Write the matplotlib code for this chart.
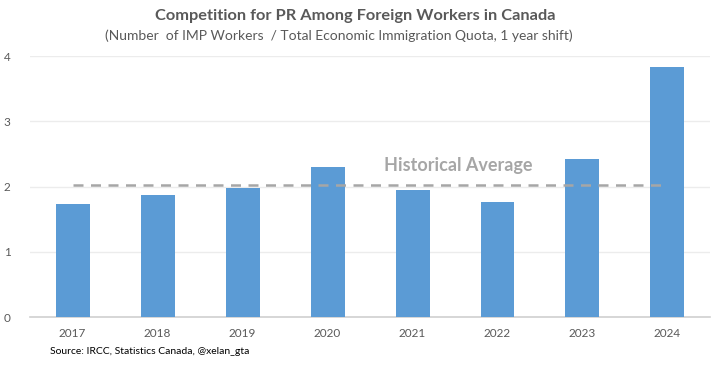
import matplotlib
matplotlib.use("Agg")
from matplotlib import pyplot as plt

years = ["2017", "2018", "2019", "2020", "2021", "2022", "2023", "2024"]
ratio = [1.73, 1.87, 1.98, 2.30, 1.95, 1.76, 2.42, 3.83]
hist_avg = 2.02

plt.rcParams['font.family'] = ['Lato', 'DejaVu Sans']

fig = plt.figure(figsize=(7.27, 3.70), dpi=100)
ax = fig.add_axes([0.0413, 0.143, 0.9353, 0.7054])

x = list(range(len(years)))
ax.bar(x, ratio, width=0.4, color="#5B9BD5", zorder=3)
ax.plot([x[0], x[-1]], [hist_avg, hist_avg], linestyle=(0, (4, 3)), color="#a6a6a6",
        linewidth=1.8, zorder=4)
ax.text(4.54, 2.33, "Historical Average", ha="center", va="center",
        fontsize=13, fontweight="bold", color="#a6a6a6", zorder=5)

ax.set_xlim(-0.5, len(years) - 0.5)
ax.set_ylim(0, 4)
ax.set_xticks(x)
ax.set_xticklabels(years)
ax.set_yticks([0, 1, 2, 3, 4])
ax.tick_params(axis="both", length=0, labelsize=8.5, colors="#595959")
ax.tick_params(axis="x", pad=8)
ax.tick_params(axis="y", pad=14)
ax.grid(axis="y", color="#ececec", linewidth=1, zorder=0)
for s in ["top", "right", "left"]:
    ax.spines[s].set_visible(False)
ax.spines["bottom"].set_color("#d0d0d0")
ax.spines["bottom"].set_linewidth(1.2)

fig.text(0.488, 0.958, "Competition for PR Among Foreign Workers in Canada", ha="center",
         va="center", fontsize=11.8, fontweight="bold", color="#595959")
fig.text(0.466, 0.903, "(Number  of IMP Workers  / Total Economic Immigration Quota, 1 year shift)",
         ha="center", va="center", fontsize=10, color="#595959")
fig.text(0.069, 0.049, "Source: IRCC, Statistics Canada, @xelan_gta", ha="left", va="center",
         fontsize=7.5, color="#000000")

fig.savefig("out.png", dpi=100)
